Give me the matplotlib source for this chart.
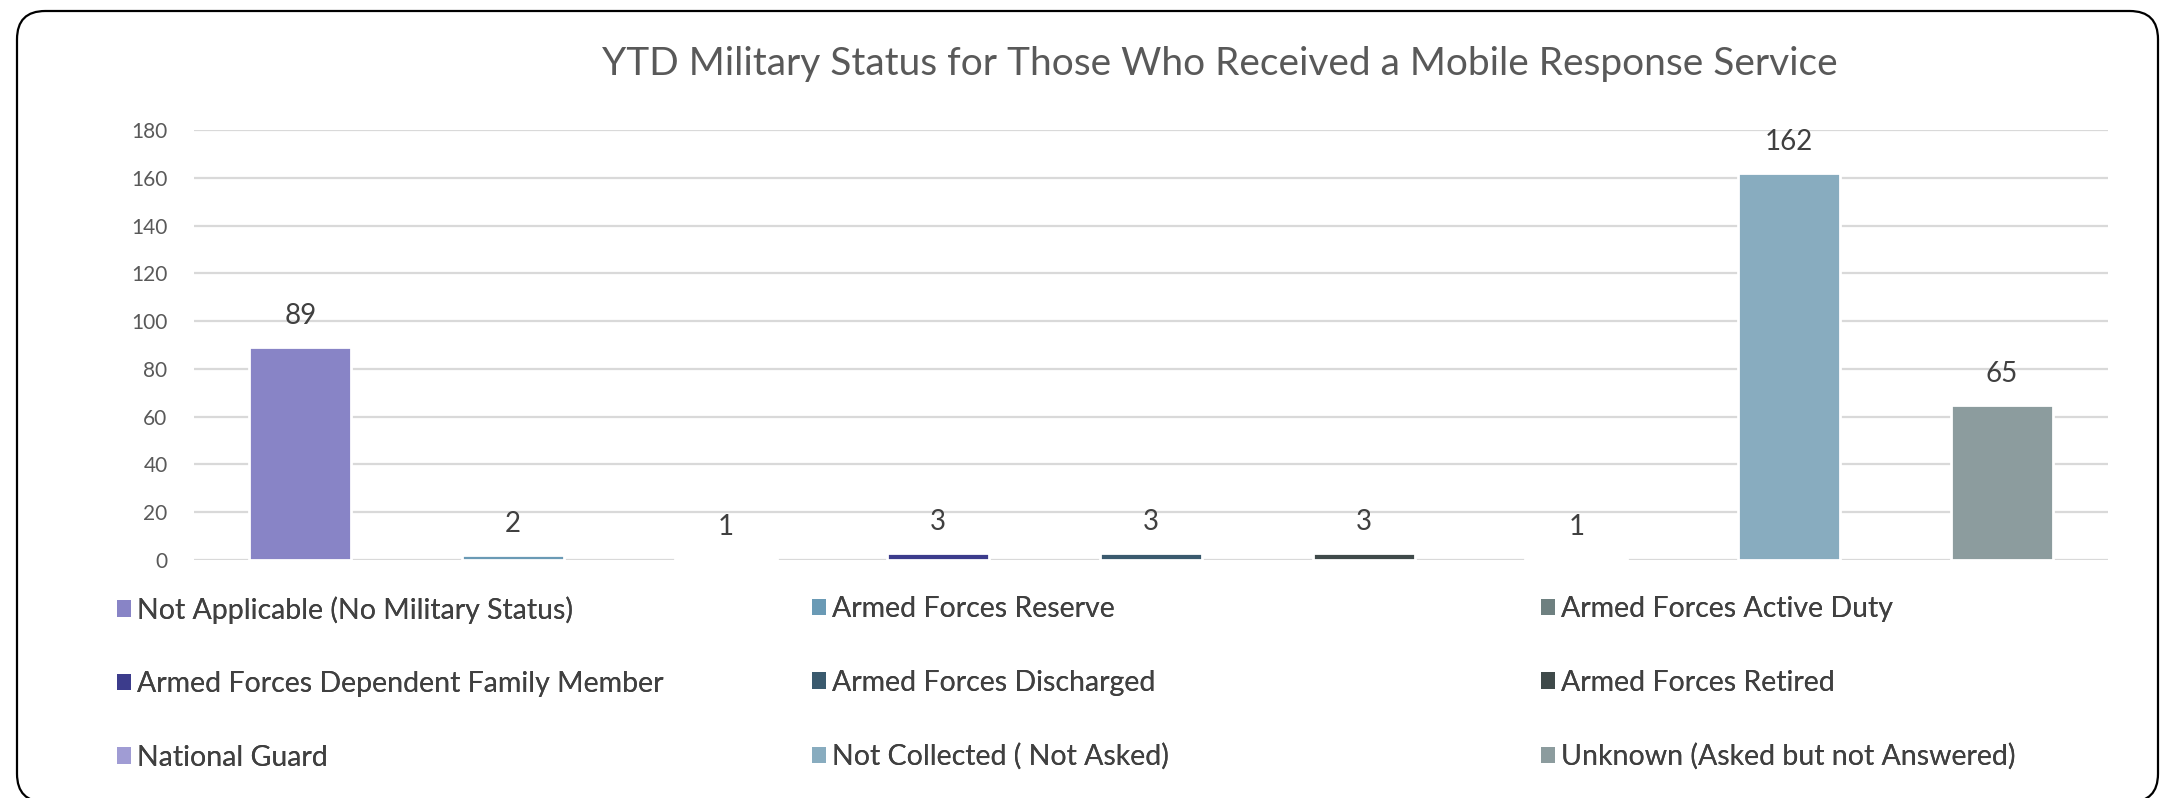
import matplotlib.pyplot as plt
from matplotlib.patches import FancyBboxPatch, Patch

# === data ===
categories = [
    "Not Applicable (No Military Status)",
    "Armed Forces Reserve",
    "Armed Forces Active Duty",
    "Armed Forces Dependent Family Member",
    "Armed Forces Discharged",
    "Armed Forces Retired",
    "National Guard",
    "Not Collected ( Not Asked)",
    "Unknown (Asked but not Answered)",
]
values = [89, 2, 1, 3, 3, 3, 1, 162, 65]
colors = ["#8884C6", "#6A9AB5", "#6E8080", "#3C3C8C", "#3A5A6E",
          "#3F4A4A", "#A09CD4", "#88ACBF", "#8C9C9E"]
yticks = [0, 20, 40, 60, 80, 100, 120, 140, 160, 180]

plt.rcParams['font.family'] = ['Lato', 'DejaVu Sans']

W, H = 2175, 798
fig = plt.figure(figsize=(W / 100, H / 100), dpi=100)

# rounded frame around the whole chart
frame = FancyBboxPatch((17 / W, -4 / H), (2158 - 17) / W, (787 + 4) / H,
                       boxstyle="round,pad=0,rounding_size=0.013",
                       transform=fig.transFigure, facecolor="none",
                       edgecolor="black", linewidth=1.6, mutation_aspect=W / H)
fig.patches.append(frame)

ax = fig.add_axes([194 / W, 1 - 560 / H, (2108 - 194) / W, (560 - 130) / H])
x = list(range(len(categories)))
bars = ax.bar(x, values, width=0.48, color=colors, edgecolor="white",
              linewidth=2.0, zorder=3)
for xi, v in zip(x, values):
    ax.annotate(str(v), (xi, v), xytext=(0, 31), textcoords="offset pixels",
                ha="center", va="center", fontsize=20, color="#404040")

ax.set_xlim(-0.5, len(categories) - 0.5)
ax.set_ylim(0, 180)
ax.set_yticks(yticks)
ax.set_xticks([])
ax.tick_params(axis="y", length=0, labelsize=15, labelcolor="#595959", pad=19)
ax.grid(axis="y", color="#D9D9D9", linewidth=1.6, zorder=0)
ax.set_axisbelow(True)
for s in ax.spines.values():
    s.set_visible(False)

fig.text(1220 / W, 1 - 64 / H,
         "YTD Military Status for Those Who Received a Mobile Response Service",
         ha="center", va="center", fontsize=28, color="#595959")

# legend: three columns, row-major like the original
col_x = [117, 812, 1541]
for c in range(3):
    idx = [c, c + 3, c + 6]
    handles = [Patch(facecolor=colors[i], edgecolor="none") for i in idx]
    leg = fig.legend(handles, [categories[i] for i in idx],
                     loc="upper left", bbox_to_anchor=(col_x[c] / W, 1 - 596 / H),
                     frameon=False, fontsize=20.5, labelcolor="#404040",
                     handlelength=0.5, handleheight=0.5, handletextpad=0.2,
                     labelspacing=1.67, borderaxespad=0, borderpad=0)
    fig.add_artist(leg)

fig.savefig("out.png", dpi=100)
